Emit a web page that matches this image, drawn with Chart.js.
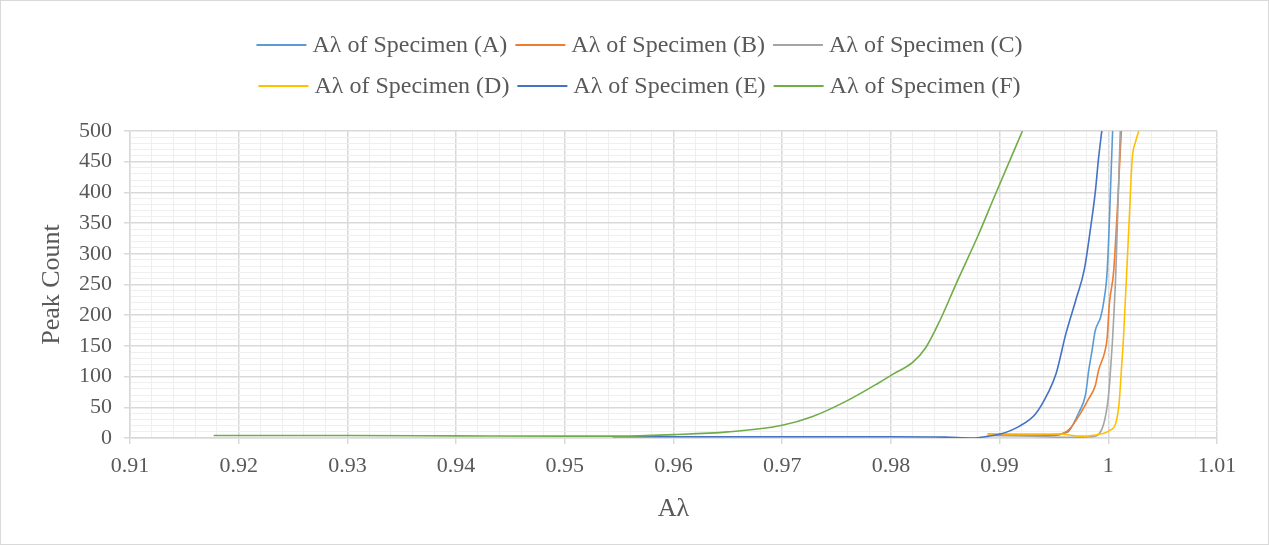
<!DOCTYPE html>
<html>
<head>
<meta charset="utf-8">
<script src="https://cdn.jsdelivr.net/npm/chart.js@4/dist/chart.umd.min.js"></script>
<style>
  html, body { margin: 0; padding: 0; background: #ffffff; }
  #wrap { position: relative; width: 1269px; height: 545px; }
</style>
</head>
<body>
<div id="wrap"><canvas id="chart"></canvas></div>
<script>
// Aλ values (x) and peak counts (y) for each specimen
const aLambdaA = [0.9895, 0.9930, 0.9950, 0.9960, 0.9964, 0.9973, 0.9979, 0.9982, 0.9985, 0.9988, 0.9993, 0.9996, 0.9999, 1.0004];
const peaksA   = [5, 4.5, 4, 8, 12, 42, 70, 110, 142, 175, 197, 224, 273, 500];

const aLambdaB = [0.9889, 0.9930, 0.9955, 0.9964, 0.9973, 0.9982, 0.9988, 0.9991, 0.9997, 0.9999, 1.0001, 1.0005, 1.0012];
const peaksB   = [7, 5, 6, 14, 36, 64, 85, 110, 142, 164, 219, 273, 500];

const aLambdaC = [0.9892, 0.9930, 0.9960, 0.9985, 0.9994, 0.9999, 1.0001, 1.0002, 1.0004, 1.0007, 1.0011];
const peaksC   = [4, 3, 1, 2, 14, 52, 85, 110, 164, 273, 500];

const aLambdaD = [0.9889, 0.9955, 0.9973, 0.9988, 1.0001, 1.0007, 1.0010, 1.0012, 1.0014, 1.0017, 1.0019, 1.0022, 1.0025, 1.0028];
const peaksD   = [6.5, 6.5, 3, 5, 12, 25, 58, 110, 164, 273, 346, 455, 482, 500];

const aLambdaE = [0.9544, 0.9600, 0.9700, 0.9800, 0.9850, 0.9875, 0.9890, 0.9900, 0.9918, 0.9933, 0.9945, 0.9952, 0.9961, 0.9970, 0.9978, 0.9984, 0.9988, 0.9991, 0.9994];
const peaksE   = [2, 2, 2, 2, 1.5, 0, 3, 6, 19, 39, 75, 105, 170, 224, 275, 346, 400, 455, 500];

const aLambdaF = [0.9177, 0.9300, 0.9400, 0.9500, 0.9550, 0.9600, 0.9650, 0.9700, 0.9728, 0.9759, 0.9789, 0.9802, 0.9820, 0.9832, 0.9845, 0.9860, 0.9881, 0.9894, 0.9921];
const peaksF   = [4, 4, 3.5, 3, 3, 5.5, 10, 20.7, 35, 60, 90, 104, 123, 147, 191, 251, 333, 388, 500];

const seriesLabels = ['Aλ of Specimen (A)', 'Aλ of Specimen (B)', 'Aλ of Specimen (C)',
                      'Aλ of Specimen (D)', 'Aλ of Specimen (E)', 'Aλ of Specimen (F)'];
const seriesColors = ['#5B9BD5', '#ED7D31', '#A5A5A5', '#FFC000', '#4472C4', '#70AD47'];

// Axis ranges and label values
const xMin = 0.91, xMax = 1.01, xMinorStep = 0.002, xMajorEvery = 5;
const yMin = 0, yMax = 500, yMinorStep = 10, yMajorEvery = 5;
const yAxisTitle = 'Peak Count';
const xAxisTitle = 'Aλ';

const FONT_FAMILY = '"Liberation Serif", "Times New Roman", serif';
const TEXT_COLOR = '#595959';
const MAJOR_GRID = '#D9D9D9';
const MINOR_GRID = '#EFEFEF';

const xs = [aLambdaA, aLambdaB, aLambdaC, aLambdaD, aLambdaE, aLambdaF];
const ys = [peaksA, peaksB, peaksC, peaksD, peaksE, peaksF];

const datasets = seriesLabels.map((label, i) => ({
  label,
  data: xs[i].map((x, k) => ({ x, y: ys[i][k] })),
  borderColor: seriesColors[i],
  backgroundColor: seriesColors[i],
  borderWidth: 1.6,
  pointRadius: 0,
  cubicInterpolationMode: 'monotone',
  fill: false,
  order: seriesLabels.length - 1 - i
}));

function buildTicks(min, step, count) {
  const out = [];
  for (let i = 0; i <= count; i++) out.push({ value: Math.round((min + i * step) * 10000) / 10000 });
  return out;
}

// Two-row legend with short line samples
const legendRows = [[0, 1, 2], [3, 4, 5]];
const specimenLegend = {
  id: 'specimenLegend',
  afterDraw(chart) {
    const ctx = chart.ctx;
    const ds = chart.data.datasets;
    const rowY = [45, 86];
    const sample = 50, gap = 6, itemGap = 8;
    const centerX = chart.width / 2 + 5;
    ctx.save();
    ctx.font = '24px ' + FONT_FAMILY;
    ctx.textBaseline = 'middle';
    ctx.textAlign = 'left';
    legendRows.forEach((row, r) => {
      const widths = row.map(i => sample + gap + ctx.measureText(ds[i].label).width);
      const total = widths.reduce((a, b) => a + b, 0) + itemGap * (row.length - 1);
      let x = centerX - total / 2;
      row.forEach((i, k) => {
        ctx.strokeStyle = ds[i].borderColor;
        ctx.lineWidth = 2;
        ctx.beginPath();
        ctx.moveTo(x, rowY[r]);
        ctx.lineTo(x + sample, rowY[r]);
        ctx.stroke();
        ctx.fillStyle = TEXT_COLOR;
        ctx.fillText(ds[i].label, x + sample + gap, rowY[r] + 1);
        x += widths[k] + itemGap;
      });
    });
    ctx.restore();
  }
};

// Light frame around the whole chart
const chartFrame = {
  id: 'chartFrame',
  afterDraw(chart) {
    const ctx = chart.ctx;
    ctx.save();
    ctx.strokeStyle = '#D9D9D9';
    ctx.lineWidth = 1;
    ctx.strokeRect(0.5, 0.5, chart.width - 1, chart.height - 1);
    ctx.restore();
  }
};

new Chart(document.getElementById('chart'), {
  type: 'line',
  data: { datasets },
  plugins: [specimenLegend, chartFrame],
  options: {
    responsive: true,
    maintainAspectRatio: false,
    animation: false,
    layout: { padding: { top: 131, right: 52, bottom: 10, left: 0 } },
    plugins: {
      legend: { display: false },
      tooltip: { enabled: false }
    },
    scales: {
      x: {
        type: 'linear',
        min: xMin,
        max: xMax,
        afterBuildTicks: (scale) => { scale.ticks = buildTicks(xMin, xMinorStep, Math.round((xMax - xMin) / xMinorStep)); },
        afterFit: (scale) => { scale.height = 97; },
        ticks: {
          autoSkip: false,
          maxRotation: 0,
          padding: 9,
          color: TEXT_COLOR,
          font: { family: FONT_FAMILY, size: 22 },
          callback: (v, i) => (i % xMajorEvery === 0 ? String(Number(v.toFixed(2))) : '')
        },
        grid: {
          color: (c) => (c.index % xMajorEvery === 0 ? MAJOR_GRID : MINOR_GRID),
          lineWidth: (c) => (c.index % xMajorEvery === 0 ? 1.5 : 1),
          tickColor: (c) => (c.index % xMajorEvery === 0 ? MAJOR_GRID : 'rgba(0,0,0,0)'),
          tickLength: 6
        },
        border: { color: MAJOR_GRID, width: 1.5 },
        title: {
          display: true,
          text: xAxisTitle,
          color: TEXT_COLOR,
          font: { family: FONT_FAMILY, size: 26 },
          padding: { top: 0, bottom: 10 }
        }
      },
      y: {
        type: 'linear',
        min: yMin,
        max: yMax,
        afterBuildTicks: (scale) => { scale.ticks = buildTicks(yMin, yMinorStep, Math.round((yMax - yMin) / yMinorStep)); },
        afterFit: (scale) => { scale.width = 130; },
        ticks: {
          autoSkip: false,
          padding: 12,
          color: TEXT_COLOR,
          font: { family: FONT_FAMILY, size: 22 },
          callback: (v, i) => (i % yMajorEvery === 0 ? String(v) : '')
        },
        grid: {
          color: (c) => (c.index % yMajorEvery === 0 ? MAJOR_GRID : MINOR_GRID),
          lineWidth: (c) => (c.index % yMajorEvery === 0 ? 1.5 : 1),
          tickColor: (c) => (c.index % yMajorEvery === 0 ? MAJOR_GRID : 'rgba(0,0,0,0)'),
          tickLength: 6
        },
        border: { color: MAJOR_GRID, width: 1.5 },
        title: {
          display: true,
          text: yAxisTitle,
          color: TEXT_COLOR,
          font: { family: FONT_FAMILY, size: 26 },
          padding: { top: 37, bottom: 0 }
        }
      }
    }
  }
});
</script>
</body>
</html>
